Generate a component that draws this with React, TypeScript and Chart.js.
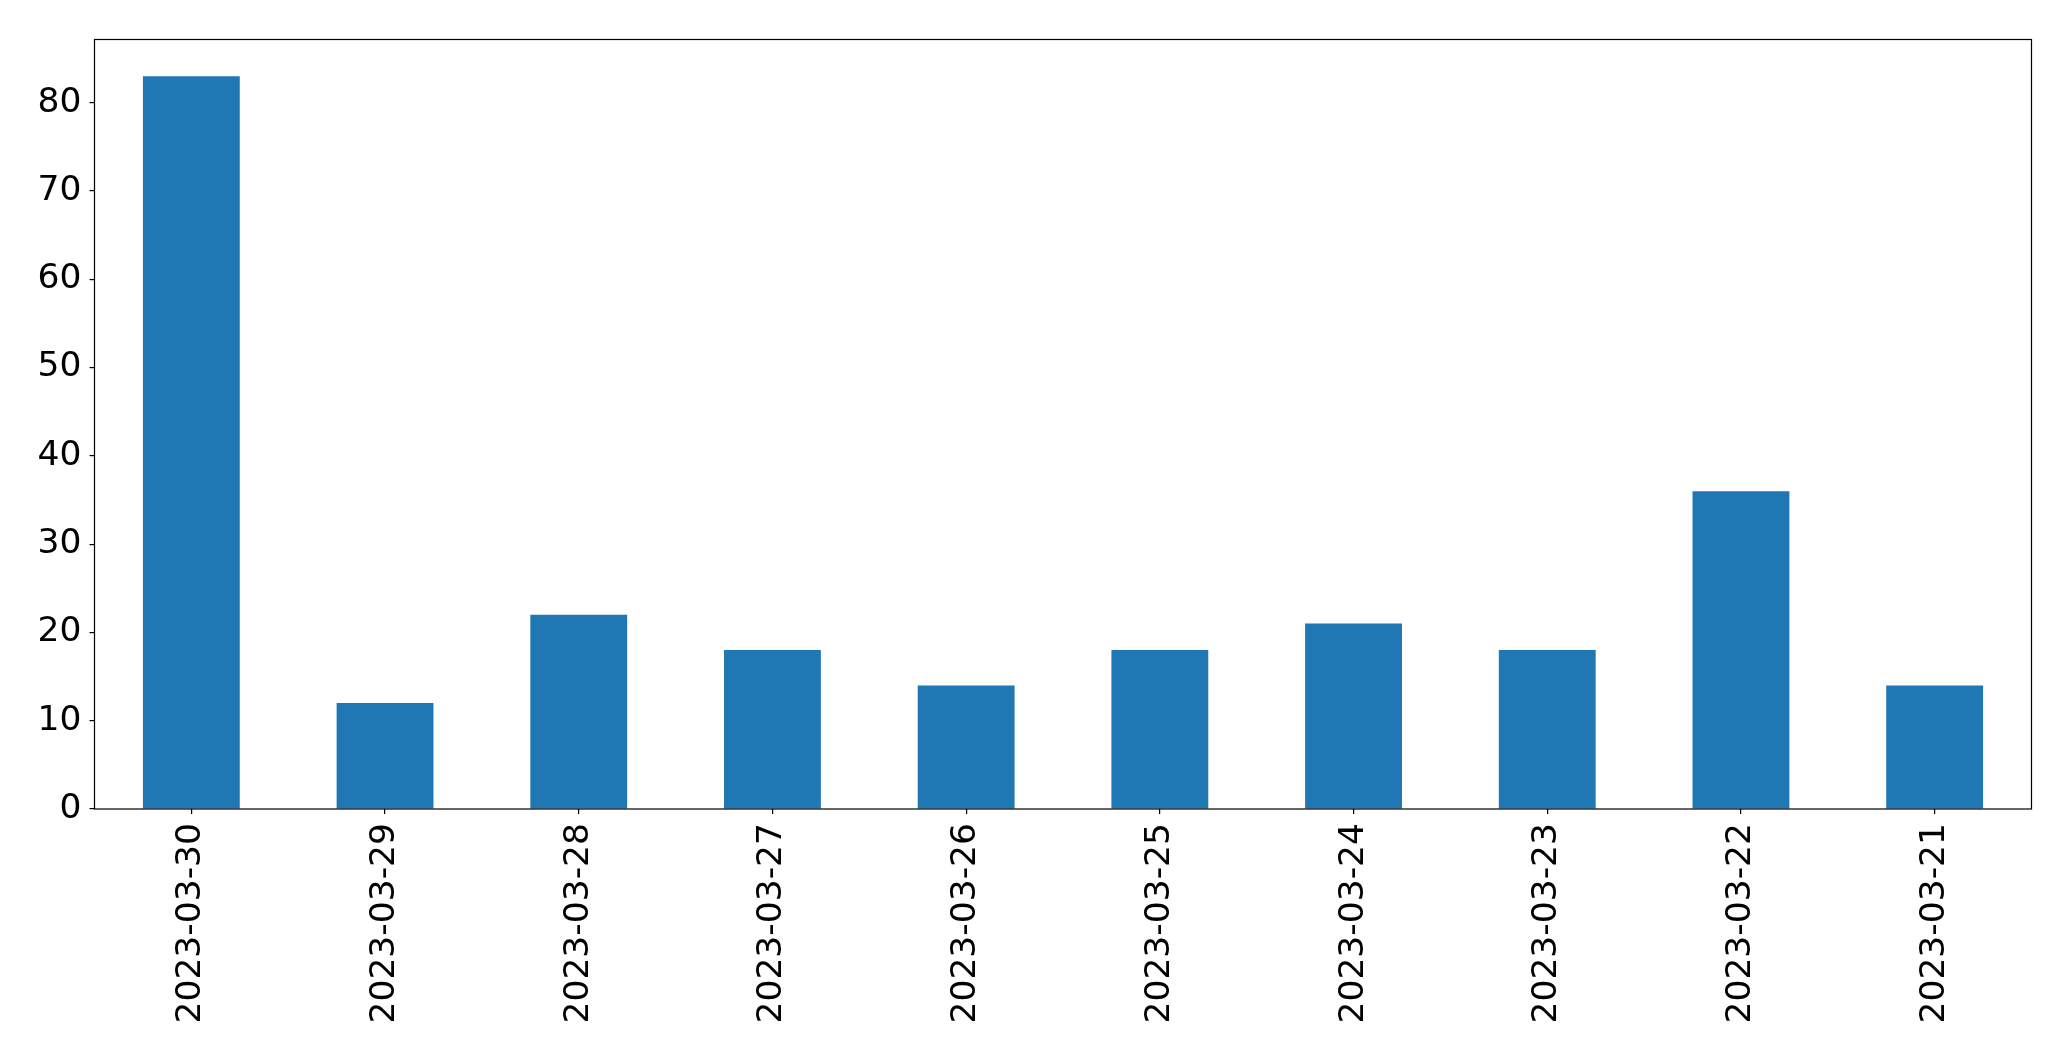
import React, { useEffect, useRef } from "react";
import { Chart, registerables } from "chart.js";

Chart.register(...registerables);

const categories = [
  "2023-03-30", "2023-03-29", "2023-03-28", "2023-03-27", "2023-03-26",
  "2023-03-25", "2023-03-24", "2023-03-23", "2023-03-22", "2023-03-21",
];
const values = [83, 12, 22, 18, 14, 18, 21, 18, 36, 14];
const yTicks = [0, 10, 20, 30, 40, 50, 60, 70, 80];
const yMax = 87.15;

const frame = {
  id: "frame",
  afterDatasetsDraw(chart: any) {
    const { ctx, chartArea: a } = chart;
    ctx.save();
    ctx.strokeStyle = "#000";
    ctx.lineWidth = 1.2;
    ctx.strokeRect(a.left, a.top, a.right - a.left, a.bottom - a.top);
    ctx.restore();
  },
};

export default function App() {
  const ref = useRef<HTMLCanvasElement>(null);
  useEffect(() => {
    const c = new Chart(ref.current!, {
      type: "bar",
      data: {
        labels: categories,
        datasets: [
          {
            data: values,
            backgroundColor: "#1f77b4",
            categoryPercentage: 1,
            barPercentage: 0.5,
          },
        ],
      },
      options: {
        animation: false,
        responsive: false,
        maintainAspectRatio: false,
        layout: { padding: { top: 39.5, right: 39.5, left: 0, bottom: 0 } },
        plugins: { legend: { display: false }, tooltip: { enabled: false } },
        scales: {
          x: {
            offset: true,
            grid: {
              display: true,
              drawOnChartArea: false,
              drawTicks: true,
              tickLength: 5,
              color: "#000",
              lineWidth: 1.2,
              offset: false,
            },
            border: { display: false },
            ticks: {
              minRotation: 90,
              maxRotation: 90,
              autoSkip: false,
              padding: 9,
              color: "#000",
              font: { family: "DejaVu Sans", size: 34.5 },
            },
            afterFit(s: any) {
              s.height = 1061 - 809;
            },
          },
          y: {
            min: 0,
            max: yMax,
            grid: {
              display: true,
              drawOnChartArea: false,
              drawTicks: true,
              tickLength: 5,
              color: "#000",
              lineWidth: 1.2,
            },
            border: { display: false },
            afterBuildTicks(s: any) {
              s.ticks = yTicks.map((v) => ({ value: v }));
            },
            ticks: {
              padding: 8,
              color: "#000",
              font: { family: "DejaVu Sans", size: 34.5 },
            },
            afterFit(s: any) {
              s.width = 94.5;
            },
          },
        },
      },
      plugins: [frame],
    });
    return () => c.destroy();
  }, []);
  return (
    <div style={{ position: "absolute", left: 0, top: 0, width: 2071, height: 1061, background: "#fff" }}>
      <canvas ref={ref} width={2071} height={1061} />
    </div>
  );
}
